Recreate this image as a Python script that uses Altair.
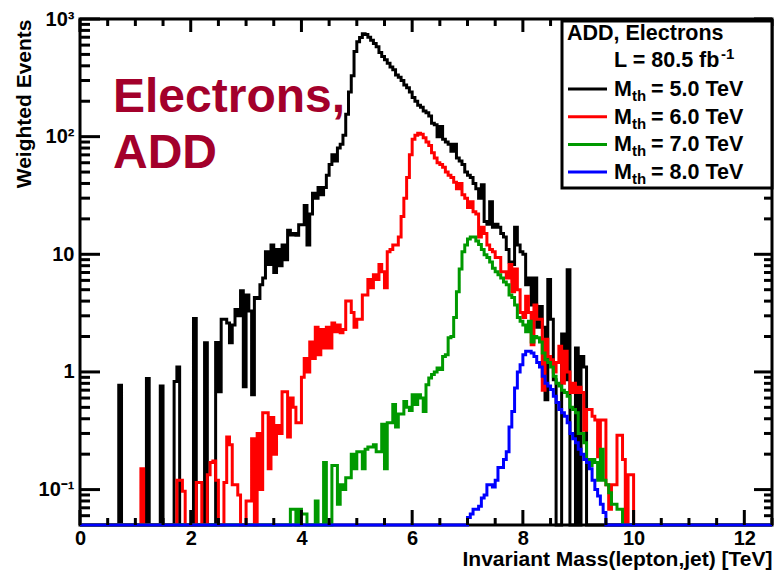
import altair as alt
import pandas as pd

FONT = "Liberation Sans"
BIN_WIDTH = 0.05
X_MAX = 12.5
Y_MIN = 0.05
Y_MAX = 1000.0
W, H = 692, 506

# ---------------- data ----------------
thresholds = ["5.0", "6.0", "7.0", "8.0"]
line_colors = ["#000000", "#ff0000", "#009900", "#0000ff"]
series_start = [0.0, 1.10, 3.80, 7.00]   # TeV, lower edge of first listed bin

black_vals = [
    0, 0, 0, 0, 0, 0, 0, 0, 0, 0, 0, 0, 0, 0, 0.77, 0, 0, 0, 0, 0,
    0, 0, 0, 0, 0.88, 0, 0, 0, 0, 0.76, 0, 0, 0, 0, 0.83, 1.1, 0, 0, 0, 0,
    0, 2.85, 0, 0, 0, 1.77, 0, 0, 0, 1.78, 0.68, 2.8, 2.8, 2.6, 1.77, 2.5, 3.4, 3.0, 4.9, 0.75,
    4.5, 3.3, 0.64, 4.3, 4.2, 5.5, 6.3, 10.5, 8.2, 12, 7.0, 11, 8.0, 12, 9.0, 16, 14.6, 15, 14.5, 17.8,
    17.8, 26, 12, 22, 33, 30, 37, 32, 37, 47, 58, 70, 62, 80, 86, 103, 155, 240, 330, 530,
    640, 695, 750, 740, 700, 660, 620, 580, 520, 480, 450, 420, 390, 370, 335, 320, 300, 275, 260, 240,
    215, 200, 185, 178, 165, 160, 150, 130, 126, 100, 122, 95, 90, 86, 75, 86, 66, 62, 58, 50,
    47, 45, 40, 36, 30, 39, 19, 18, 28, 17, 18, 17, 15, 14, 11, 8.6, 8.2, 17, 12, 10.5,
    10, 5.5, 6.3, 3.7, 6.3, 2.4, 3.6, 2.4, 0.58, 6.1, 2.8, 0.86, 0, 0, 2.1, 0.86, 7.4, 0, 0, 1.6,
    0, 1.35, 1.1,
]

red_vals = [
    0.15, 0, 0, 0, 0, 0, 0, 0, 0, 0, 0, 0, 0, 0.12, 0.12, 0.097, 0, 0, 0, 0,
    0.115, 0.115, 0, 0, 0.134, 0.17, 0.175, 0.12, 0, 0, 0.115, 0.28, 0.24, 0.11, 0.11, 0.09, 0, 0, 0.08, 0.08,
    0.27, 0, 0.3, 0.1, 0.45, 0.45, 0.15, 0.41, 0.2, 0.35, 0.3, 0.68, 0.68, 0.28, 0.6, 0.5, 0.37, 0.37, 0.9, 1.3,
    1.0, 1.8, 1.3, 2.4, 1.4, 2.3, 1.6, 2.4, 1.6, 2.6, 2.2, 2.5, 2.15, 2.3, 4.0, 4.0, 3.2, 2.4, 2.8, 2.8,
    4.5, 4.5, 6.1, 5.2, 6.7, 6.1, 8.2, 7.1, 5.2, 10.5, 11, 12, 12, 14, 21, 30, 45, 70, 95, 103,
    107, 105, 98, 90, 84, 73, 66, 60, 58, 55, 50, 47, 45, 41, 36, 40, 32, 30, 25, 28,
    23, 22, 14, 17, 15, 12, 11, 10.5, 9.4, 9.4, 7.1, 7.1, 6.3, 8.2, 4.8, 7.5, 5.0, 3.2, 2.9, 4.4,
    3.2, 1.7, 3.7, 2.8, 2.8, 0.7, 1.9, 1.35, 1.27, 1.0, 1.2, 1.65, 0.8, 1.5, 1.0, 0.67, 0.8, 0.67, 0.74, 0.67,
    0.32, 0.48, 0.48, 0.42, 0.39, 0.19, 0.39, 0.39, 0.11, 0.068, 0.11, 0.11, 0.29, 0.29, 0.18, 0, 0.134, 0.134,
]

green_vals = [
    0.068, 0.068, 0, 0.068, 0.062, 0.062, 0, 0, 0, 0.08, 0, 0, 0.17, 0, 0, 0.16, 0.16, 0.075, 0.11, 0.1,
    0.126, 0.126, 0.2, 0.15, 0.21, 0.21, 0.15, 0.22, 0.23, 0.23, 0.24, 0.21, 0.21, 0.36, 0.15, 0.37, 0.37, 0.53, 0.34, 0.44,
    0.44, 0.56, 0.5, 0.47, 0.64, 0.53, 0.64, 0.6, 0.46, 0.78, 0.89, 0.95, 1.0, 1.08, 1.05, 1.35, 1.4, 1.95, 2.0, 2.9,
    4.8, 7.5, 10.5, 12, 13.5, 14, 14, 13, 12.1, 11, 9.9, 9.4, 8.6, 7.6, 7.1, 6.7, 6.3, 5.8, 5.5, 4.5,
    4.3, 3.7, 2.9, 2.7, 2.5, 2.2, 2.7, 1.8, 2.0, 1.95, 1.8, 1.45, 1.27, 1.2, 1.1, 0.92, 0.8, 0.76, 0.7, 0.67,
    0.62, 0.5, 0.48, 0.45, 0.3, 0.3, 0.25, 0.18, 0.16, 0.18, 0.17, 0.12, 0.22, 0.12, 0.11, 0.094, 0.075, 0.075, 0.068, 0.068,
]

blue_vals = [
    0.058, 0.062, 0.068, 0.068, 0.072, 0.085, 0.09, 0.11, 0.11, 0.105, 0.12, 0.154, 0.154, 0.18, 0.21, 0.34, 0.46, 0.73, 1.0, 1.15,
    1.4, 1.5, 1.5, 1.45, 1.35, 1.2, 1.1, 0.92, 0.8, 0.76, 0.71, 0.62, 0.55, 0.48, 0.45, 0.42, 0.37, 0.3, 0.27, 0.25,
    0.22, 0.2, 0.18, 0.17, 0.15, 0.12, 0.1, 0.088, 0.075, 0.064,
]

all_vals = [black_vals, red_vals, green_vals, blue_vals]

x_label_values = [0, 2, 4, 6, 8, 10, 12]
x_minor_values = [0.5 * k for k in range(26) if k % 4 != 0]
y_major_values = [0.1, 1, 10, 100, 1000]
y_minor_values = [m * 10.0 ** e for e in range(-2, 3) for m in range(2, 10)
                  if Y_MIN < m * 10.0 ** e < Y_MAX]

big_label = ["Electrons,", "ADD"]
legend_title = "ADD, Electrons"
lumi_text = "L = 80.5 fb"
lumi_sup = "-1"
x_title = "Invariant Mass(lepton,jet) [TeV]"
y_title = "Weighted Events"

# ---------------- build histogram tables ----------------
n_bins = int(round(X_MAX / BIN_WIDTH))


def hist_frame(vals, start, name):
    s = int(round(start / BIN_WIDTH))
    full = [0.0] * n_bins
    for k, v in enumerate(vals):
        full[s + k] = v
    xs = [i * BIN_WIDTH for i in range(n_bins)] + [X_MAX]
    ys = full + [full[-1]]
    ys = [max(v, Y_MIN) for v in ys]
    return pd.DataFrame({"x": xs, "y": ys, "series": name})


xscale = alt.Scale(domain=[0, X_MAX], nice=False, zero=False)
yscale = alt.Scale(type="log", domain=[Y_MIN, Y_MAX], nice=False)

x_axis = alt.Axis(
    values=x_label_values, format="d", ticks=False, tickSize=0, domain=False, grid=False,
    labelFont=FONT, labelFontSize=20, labelFontWeight="bold", labelColor="black",
    labelPadding=3, labelOverlap=False, labelFlush=False,
    title=x_title, titleFont=FONT, titleFontSize=21, titleFontWeight="bold", titleColor="black",
    titleAlign="right", titleBaseline="alphabetic", titleX=W, titleY=40,
)
y_axis = alt.Axis(
    values=y_major_values, ticks=False, tickSize=0, domain=False, grid=False,
    labelExpr="datum.value >= 999 ? '10³' : datum.value >= 99 ? '10²' : datum.value >= 9 ? '10' : datum.value >= 0.9 ? '1' : '10⁻¹'",
    labelFont=FONT, labelFontSize=20, labelFontWeight="bold", labelColor="black",
    labelPadding=6, labelOverlap=False, labelFlush=False,
    title=y_title, titleFont=FONT, titleFontSize=21, titleFontWeight="bold", titleColor="black",
    titleAngle=270, titleAlign="right", titleBaseline="alphabetic", titleX=-50, titleY=0,
)

layers = []
for k, (vals, start, col, thr) in enumerate(zip(all_vals, series_start, line_colors, thresholds)):
    df = hist_frame(vals, start, thr)
    layers.append(
        alt.Chart(df).mark_line(interpolate="step-after", strokeWidth=3, color=col,
                                strokeJoin="miter", strokeCap="butt")
        .encode(
            x=alt.X("x:Q", scale=xscale, axis=x_axis),
            y=alt.Y("y:Q", scale=yscale, axis=y_axis),
        )
    )

# ---------------- inward ROOT-style ticks ----------------
def xticks(values, length, top):
    ch = alt.Chart(pd.DataFrame({"x": values})).mark_rule(color="black", strokeWidth=3)
    if top:
        return ch.encode(x=alt.X("x:Q", scale=xscale, axis=x_axis), y=alt.value(0), y2=alt.value(length))
    return ch.encode(x=alt.X("x:Q", scale=xscale, axis=x_axis), y=alt.value(H), y2=alt.value(H - length))


def yticks(values, length, right):
    ch = alt.Chart(pd.DataFrame({"y": values})).mark_rule(color="black", strokeWidth=3)
    if right:
        return ch.encode(y=alt.Y("y:Q", scale=yscale, axis=y_axis), x=alt.value(W), x2=alt.value(W - length))
    return ch.encode(y=alt.Y("y:Q", scale=yscale, axis=y_axis), x=alt.value(0), x2=alt.value(length))


layers += [
    xticks(x_label_values, 15, False), xticks(x_minor_values, 7, False),
    xticks(x_label_values, 13, True), xticks(x_minor_values, 7, True),
    yticks(y_major_values, 20, False), yticks(y_minor_values, 10, False),
    yticks(y_major_values, 18, True), yticks(y_minor_values, 8, True),
]

one = pd.DataFrame({"a": [0]})


def label(text, x, y, size, color="black", align="left"):
    return alt.Chart(one).mark_text(
        font=FONT, fontWeight="bold", fontSize=size, color=color, align=align, baseline="alphabetic"
    ).encode(x=alt.value(x), y=alt.value(y), text=alt.value(text))


# big annotation
layers += [
    label(big_label[0], 33, 93, 48, color="#a3002b"),
    label(big_label[1], 33, 149, 48, color="#a3002b"),
]

# legend box
LF = 21.5
layers.append(
    alt.Chart(one).mark_rect(fill="white", stroke="black", strokeWidth=3)
    .encode(x=alt.value(482), x2=alt.value(W), y=alt.value(2), y2=alt.value(169))
)
layers += [
    label(legend_title, 487, 21, LF),
    label(lumi_text, 534, 48, LF),
    label(lumi_sup, 641, 40, 15),
]
for k, (thr, col) in enumerate(zip(thresholds, line_colors)):
    base = 77 + 27.7 * k
    layers.append(
        alt.Chart(one).mark_rule(color=col, strokeWidth=3)
        .encode(x=alt.value(488), x2=alt.value(527), y=alt.value(base - 7), y2=alt.value(base - 7))
    )
    layers += [
        label("M", 534, base, LF),
        label("th", 552, base + 5, 15),
        label(f"= {thr} TeV", 571, base, LF),
    ]

chart = (
    alt.layer(*layers)
    .properties(
        width=W, height=H,
        padding={"left": 80, "top": 19, "right": 3, "bottom": 47},
        autosize=alt.AutoSizeParams(type="none"),
        background="white",
    )
    .configure_view(stroke="black", strokeWidth=3)
)

chart.save("out.html", embed_options={"renderer": "svg", "actions": False})
